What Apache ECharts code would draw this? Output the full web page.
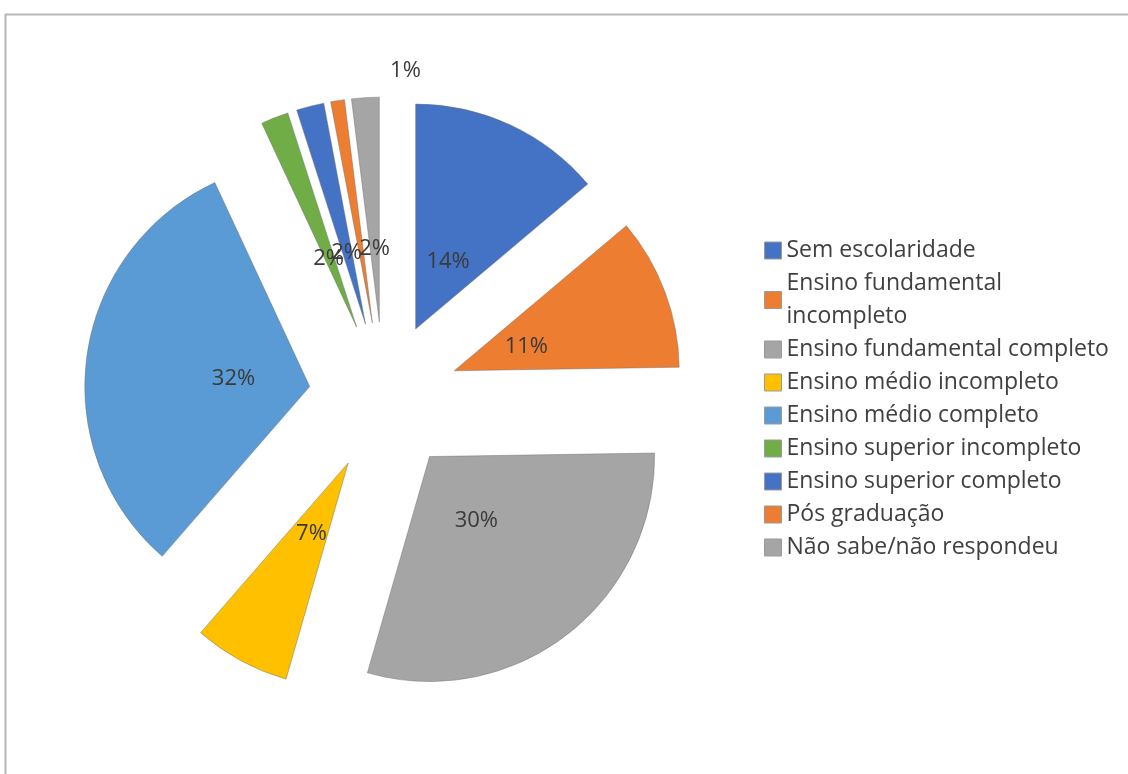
<!DOCTYPE html>
<html>
<head>
<meta charset="utf-8">
<script src="https://cdn.jsdelivr.net/npm/echarts@6/dist/echarts.min.js"></script>
<style>
  html, body { margin: 0; padding: 0; background: #ffffff; }
  #chart { width: 1128px; height: 774px; }
</style>
</head>
<body>
<div id="chart"></div>
<script>
// Escolaridade dos entrevistados (percentual)
const categories = [
  'Sem escolaridade',
  'Ensino fundamental incompleto',
  'Ensino fundamental completo',
  'Ensino médio incompleto',
  'Ensino médio completo',
  'Ensino superior incompleto',
  'Ensino superior completo',
  'Pós graduação',
  'Não sabe/não respondeu'
];
const percentages = [14, 11, 30, 7, 32, 2, 2, 1, 2];
const sliceColors = ['#4472C4', '#ED7D31', '#A5A5A5', '#FFC000', '#5B9BD5',
                     '#70AD47', '#4472C4', '#ED7D31', '#A5A5A5'];

const CENTER = [384, 397];
const RADIUS = 225;
const EXPLODE = 75;
const FONT = '"Open Sans", "DejaVu Sans", sans-serif';

// every slice is pulled away from the centre
const sliceData = categories.map((name, i) => ({
  name: name,
  value: percentages[i],
  selected: true,
  itemStyle: { color: sliceColors[i] }
}));

// transparent ring used only to place the percentage labels
const labelData = categories.map((name, i) => ({
  name: name,
  value: percentages[i]
}));

const chart = echarts.init(document.getElementById('chart'), null, { renderer: 'canvas' });

chart.setOption({
  animation: false,
  backgroundColor: '#ffffff',
  graphic: [{
    type: 'rect',
    left: 3, top: 12,
    shape: { width: 1300, height: 900 },
    style: { fill: 'none', stroke: '#b8b8b8', lineWidth: 2 },
    silent: true
  }],
  legend: {
    orient: 'vertical',
    left: 764,
    top: 234,
    padding: 0,
    itemGap: 0,
    itemWidth: 17,
    itemHeight: 17,
    icon: 'rect',
    data: categories,
    selectedMode: false,
    itemStyle: { borderColor: '#9a9a9a', borderWidth: 1 },
    textStyle: {
      fontFamily: FONT,
      fontSize: 23,
      color: '#404040',
      lineHeight: 33,
      padding: [0, 0, 0, 0]
    },
    formatter: function (name) {
      if (name.length > 27) {
        const cut = name.lastIndexOf(' ');
        return name.slice(0, cut) + '\n' + name.slice(cut + 1);
      }
      return name;
    }
  },
  series: [
    {
      type: 'pie',
      center: CENTER,
      radius: [0, RADIUS],
      startAngle: 90,
      clockwise: true,
      selectedMode: 'multiple',
      selectedOffset: EXPLODE,
      avoidLabelOverlap: false,
      silent: true,
      label: { show: false },
      labelLine: { show: false },
      itemStyle: { borderColor: 'rgba(110,110,110,0.45)', borderWidth: 1 },
      emphasis: { disabled: true },
      data: sliceData
    },
    {
      type: 'pie',
      center: CENTER,
      radius: [74, RADIUS - 1],
      startAngle: 90,
      clockwise: true,
      avoidLabelOverlap: false,
      silent: true,
      itemStyle: { color: 'rgba(0,0,0,0)', borderWidth: 0 },
      emphasis: { disabled: true },
      labelLine: { show: false },
      label: {
        show: true,
        position: 'inside',
        formatter: '{c}%',
        fontFamily: FONT,
        fontSize: 22,
        color: '#3a3a3a'
      },
      // the 1% label sits above the pie
      labelLayout: function (params) {
        if (params.dataIndex === 7) {
          return { dx: 45, dy: -176 };
        }
        return { dy: 3 };
      },
      data: labelData
    }
  ]
});
</script>
</body>
</html>
